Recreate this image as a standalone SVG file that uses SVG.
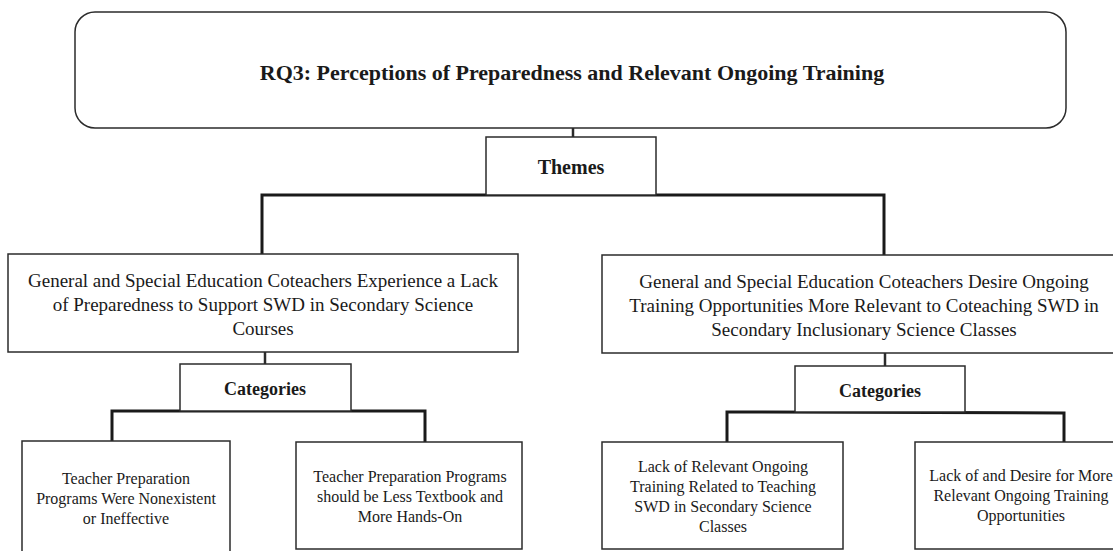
<svg xmlns="http://www.w3.org/2000/svg" width="1113" height="551" viewBox="0 0 1113 551">
<style>
.box{fill:#fff;stroke:#2b2b2b;stroke-width:1.5}
.t{font-family:"Liberation Serif","Times New Roman",serif;fill:#1a1a1a;text-anchor:middle}
.b{font-weight:bold}
.c{fill:none;stroke:#2b2b2b;stroke-width:2.5}
.h{fill:none;stroke:#1a1a1a;stroke-width:3}
</style>
<rect width="1113" height="551" fill="#fff"/>
<g id="connectors">
<line class="c" x1="573" y1="128" x2="573" y2="137"/>
<polyline class="h" points="262,254 262,195 884,195 884,255"/>
<line class="c" x1="265" y1="352" x2="265" y2="364"/>
<polyline class="h" points="112,441 112,411 425,411 425,442"/>
<line class="c" x1="885" y1="353" x2="885" y2="366"/>
<polyline class="h" points="727,442 727,412 1064,413 1064,442"/>
</g>
<g id="rq3">
<rect class="box" x="75" y="12" width="991" height="116" rx="20" ry="20"/>
<text class="t b" x="572" y="80" font-size="22">RQ3: Perceptions of Preparedness and Relevant Ongoing Training</text>
</g>
<g id="themes">
<rect class="box" x="486" y="137" width="170" height="58"/>
<text class="t b" x="571" y="174" font-size="20">Themes</text>
</g>
<g id="theme1">
<rect class="box" x="8" y="254" width="510" height="98"/>
<text class="t" font-size="19"><tspan x="263" y="287">General and Special Education Coteachers Experience a Lack</tspan><tspan x="263" y="311">of Preparedness to Support SWD in Secondary Science</tspan><tspan x="263" y="335">Courses</tspan></text>
</g>
<g id="theme2">
<rect class="box" x="602" y="255" width="520" height="98"/>
<text class="t" font-size="19"><tspan x="864" y="288">General and Special Education Coteachers Desire Ongoing</tspan><tspan x="864" y="312">Training Opportunities More Relevant to Coteaching SWD in</tspan><tspan x="864" y="336">Secondary Inclusionary Science Classes</tspan></text>
</g>
<g id="categories1">
<rect class="box" x="180" y="364" width="171" height="47"/>
<text class="t b" x="265" y="395" font-size="18">Categories</text>
</g>
<g id="categories2">
<rect class="box" x="795" y="366" width="170" height="46"/>
<text class="t b" x="880" y="397" font-size="18">Categories</text>
</g>
<g id="cat1a">
<rect class="box" x="22" y="441" width="208" height="120"/>
<text class="t" font-size="16"><tspan x="126" y="484">Teacher Preparation</tspan><tspan x="126" y="504">Programs Were Nonexistent</tspan><tspan x="126" y="524">or Ineffective</tspan></text>
</g>
<g id="cat1b">
<rect class="box" x="296" y="442" width="226" height="107"/>
<text class="t" font-size="16"><tspan x="410" y="482">Teacher Preparation Programs</tspan><tspan x="410" y="502">should be Less Textbook and</tspan><tspan x="410" y="522">More Hands-On</tspan></text>
</g>
<g id="cat2a">
<rect class="box" x="602" y="442" width="241" height="107"/>
<text class="t" font-size="16"><tspan x="723" y="472">Lack of Relevant Ongoing</tspan><tspan x="723" y="492">Training Related to Teaching</tspan><tspan x="723" y="512">SWD in Secondary Science</tspan><tspan x="723" y="532">Classes</tspan></text>
</g>
<g id="cat2b">
<rect class="box" x="915" y="442" width="210" height="107"/>
<text class="t" font-size="16"><tspan x="1021" y="481">Lack of and Desire for More</tspan><tspan x="1021" y="501">Relevant Ongoing Training</tspan><tspan x="1021" y="521">Opportunities</tspan></text>
</g>
</svg>
